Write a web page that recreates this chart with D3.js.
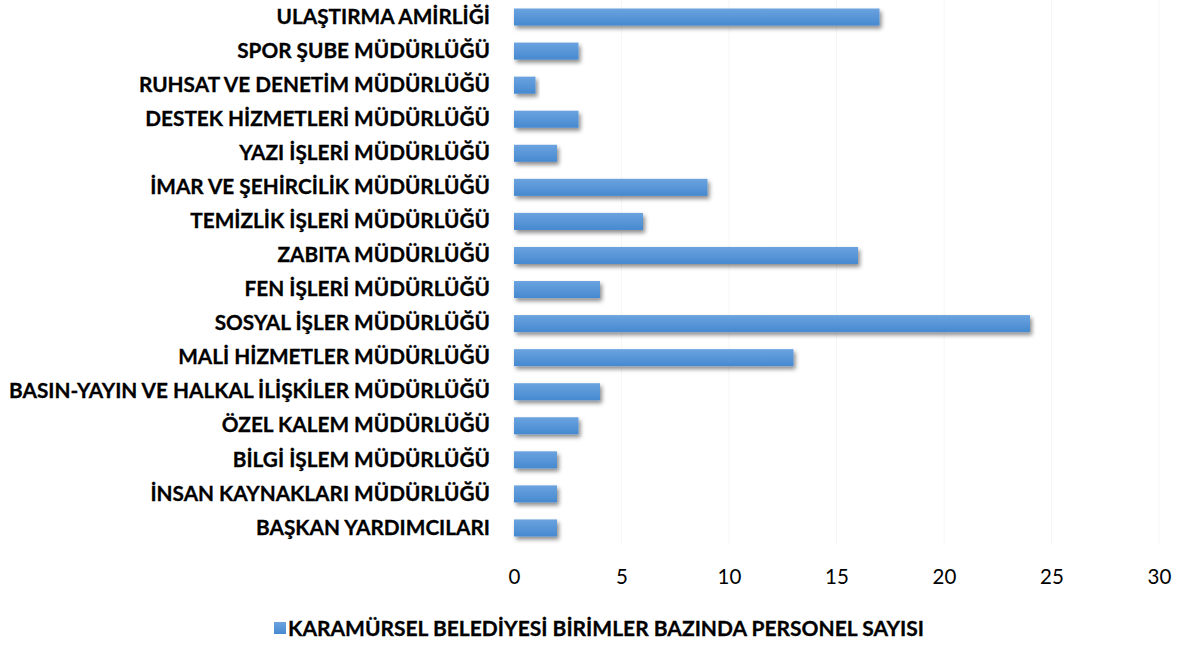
<!DOCTYPE html>
<html>
<head>
<meta charset="utf-8">
<script src="https://cdn.jsdelivr.net/npm/d3@7"></script>
<style>
  body { margin: 0; background: #fff; }
  text { font-family: Lato, "Open Sans", sans-serif; fill: #000; }
</style>
</head>
<body>
<svg id="chart"></svg>
<script>
// Units, top to bottom as in the picture
const units = [
    'ULAŞTIRMA AMİRLİĞİ',
    'SPOR ŞUBE MÜDÜRLÜĞÜ',
    'RUHSAT VE DENETİM MÜDÜRLÜĞÜ',
    'DESTEK HİZMETLERİ MÜDÜRLÜĞÜ',
    'YAZI İŞLERİ MÜDÜRLÜĞÜ',
    'İMAR VE ŞEHİRCİLİK MÜDÜRLÜĞÜ',
    'TEMİZLİK İŞLERİ MÜDÜRLÜĞÜ',
    'ZABITA MÜDÜRLÜĞÜ',
    'FEN İŞLERİ MÜDÜRLÜĞÜ',
    'SOSYAL İŞLER MÜDÜRLÜĞÜ',
    'MALİ HİZMETLER MÜDÜRLÜĞÜ',
    'BASIN-YAYIN VE HALKAL İLİŞKİLER MÜDÜRLÜĞÜ',
    'ÖZEL KALEM MÜDÜRLÜĞÜ',
    'BİLGİ İŞLEM MÜDÜRLÜĞÜ',
    'İNSAN KAYNAKLARI MÜDÜRLÜĞÜ',
    'BAŞKAN YARDIMCILARI'
];
const staff = [17, 3, 1, 3, 2, 9, 6, 16, 4, 24, 13, 4, 3, 2, 2, 2];
const xTicks = [0, 5, 10, 15, 20, 25, 30];
const seriesName = 'KARAMÜRSEL BELEDİYESİ BİRİMLER BAZINDA PERSONEL SAYISI';

const width = 1179, height = 645;
const margin = {top: 0, left: 514, right: 20, bottom: 100};
const plotW = 1159 - margin.left;
const plotH = 545;

const svg = d3.select('#chart')
    .attr('width', width)
    .attr('height', height);

// bar gradient + soft shadow
const defs = svg.append('defs');
const grad = defs.append('linearGradient')
    .attr('id', 'barGrad')
    .attr('x1', 0).attr('y1', 0).attr('x2', 0).attr('y2', 1);
grad.append('stop').attr('offset', '0%').attr('stop-color', '#6ba3df');
grad.append('stop').attr('offset', '100%').attr('stop-color', '#4689d0');

const shadow = defs.append('filter')
    .attr('id', 'shadow')
    .attr('x', '-10%').attr('y', '-50%')
    .attr('width', '130%').attr('height', '250%');
shadow.append('feDropShadow')
    .attr('dx', 2).attr('dy', 3)
    .attr('stdDeviation', 2)
    .attr('flood-color', '#000')
    .attr('flood-opacity', 0.45);

const chart = svg.append('g')
    .attr('transform', `translate(${margin.left},${margin.top})`);

const xScale = d3.scaleLinear()
    .domain([0, 30])
    .range([0, plotW]);

const yScale = d3.scaleBand()
    .domain(units)
    .range([0, plotH])
    .paddingInner(0.5)
    .paddingOuter(0.25);

// very faint vertical gridlines
chart.append('g')
    .selectAll('line')
    .data(xTicks.slice(1))
    .join('line')
    .attr('x1', d => xScale(d))
    .attr('x2', d => xScale(d))
    .attr('y1', 0)
    .attr('y2', plotH)
    .attr('stroke', '#f6f6f6')
    .attr('stroke-width', 1);

// bars
chart.append('g')
    .selectAll('rect')
    .data(units)
    .join('rect')
    .attr('x', xScale(0))
    .attr('y', d => yScale(d))
    .attr('width', (d, i) => xScale(staff[i]) - xScale(0))
    .attr('height', yScale.bandwidth())
    .attr('fill', 'url(#barGrad)')
    .attr('filter', 'url(#shadow)');

// x axis (labels only)
const xAxis = d3.axisBottom(xScale)
    .tickValues(xTicks)
    .tickSize(0)
    .tickPadding(0);

const xAxisG = chart.append('g')
    .attr('transform', `translate(0,${plotH})`)
    .call(xAxis);
xAxisG.select('.domain').remove();
xAxisG.selectAll('text')
    .attr('y', 32)
    .attr('dy', '0.35em')
    .style('font-size', '20.5px')
    .style('font-family', 'Lato, "Open Sans", sans-serif')
    .attr('fill', '#000');

// y axis (category labels only)
const yAxis = d3.axisLeft(yScale)
    .tickSize(0)
    .tickPadding(24);

const yAxisG = chart.append('g').call(yAxis);
yAxisG.select('.domain').remove();
const yLabels = yAxisG.selectAll('text')
    .style('font-family', 'Lato, "Open Sans", sans-serif')
    .style('font-weight', 'bold')
    .style('font-size', '19px')
    .attr('fill', '#000')
    .attr('stroke', '#000')
    .attr('stroke-width', 0.3);

// fit longest label to the width seen in the reference (~481px)
let maxLen = 0;
yLabels.each(function() { maxLen = Math.max(maxLen, this.getComputedTextLength()); });
const labelSize = 19 * 481 / maxLen;
yLabels.style('font-size', labelSize + 'px');

// legend
const legend = svg.append('g');
legend.append('text')
    .attr('x', 288)
    .attr('y', 629)
    .attr('dy', '0.35em')
    .style('font-weight', 'bold')
    .style('font-size', (labelSize + 0.5) + 'px')
    .attr('stroke', '#000')
    .attr('stroke-width', 0.3)
    .attr('textLength', 636)
    .attr('lengthAdjust', 'spacingAndGlyphs')
    .text(seriesName);
legend.append('rect')
    .attr('x', 274)
    .attr('y', 622)
    .attr('width', 12)
    .attr('height', 12)
    .attr('fill', 'url(#barGrad)');
</script>
</body>
</html>
